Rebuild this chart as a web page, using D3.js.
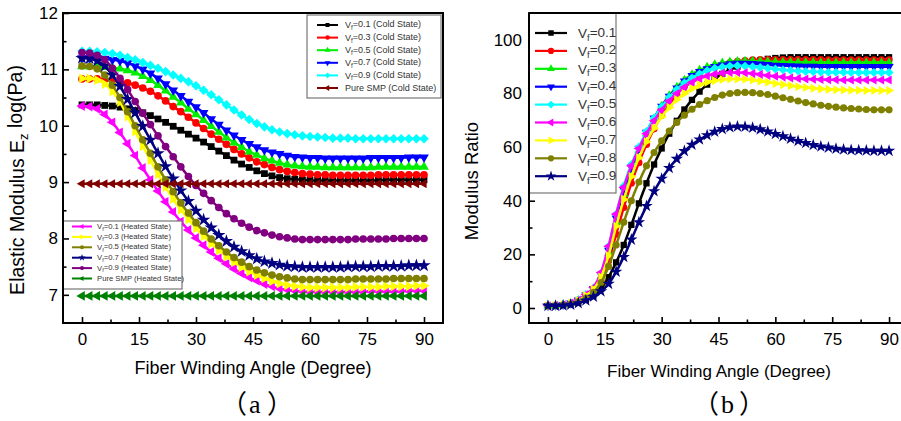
<!DOCTYPE html>
<html>
<head>
<meta charset="utf-8">
<script src="https://cdn.jsdelivr.net/npm/d3@7"></script>
<style>
  body { margin: 0; background: #fff; }
  svg { display: block; font-family: "Liberation Sans", Arial, sans-serif; }
</style>
</head>
<body>
<svg id="chart" width="901" height="421"></svg>
<script>
// fiber winding angle, every 2 degrees
const angles = d3.range(0, 91, 2);

// ---- (a) elastic modulus, log(Pa), cold state ----
const coldVf01 = [10.37,10.37,10.37,10.36,10.35,10.33, 10.30,10.27,10.23,10.18,10.12,10.06,
  9.99,9.92,9.85,9.78,9.71,9.63, 9.55,9.47,9.39,9.32,9.26,9.20, 9.15,9.11,9.08,9.06,9.05,9.04,
  9.03,9.03,9.03,9.03,9.03,9.03, 9.03,9.03,9.03,9.03,9.04,9.04, 9.04,9.04,9.04,9.04];
const coldVf03 = [10.83,10.83,10.83,10.82,10.81,10.79, 10.76,10.72,10.67,10.61,10.53,10.44,
  10.34,10.25,10.15,10.05,9.95,9.85, 9.76,9.67,9.58,9.50,9.43,9.36, 9.31,9.26,9.22,9.19,9.17,9.15,
  9.14,9.13,9.13,9.12,9.12,9.12, 9.12,9.12,9.12,9.13,9.13,9.13, 9.13,9.13,9.13,9.13];
const coldVf05 = [11.05,11.05,11.05,11.04,11.03,11.01, 10.98,10.94,10.88,10.81,10.72,10.62,
  10.51,10.41,10.30,10.20,10.10,9.99, 9.89,9.79,9.70,9.62,9.54,9.48, 9.42,9.38,9.34,9.31,9.29,9.28,
  9.27,9.27,9.26,9.26,9.26,9.26, 9.26,9.26,9.26,9.27,9.27,9.27, 9.27,9.27,9.27,9.27];
const coldVf07 = [11.20,11.20,11.20,11.19,11.17,11.15, 11.11,11.06,11.00,10.93,10.84,10.74,
  10.63,10.53,10.43,10.33,10.23,10.12, 10.02,9.92,9.83,9.75,9.68,9.62, 9.57,9.53,9.50,9.47,9.45,9.44,
  9.43,9.43,9.42,9.42,9.42,9.42, 9.42,9.42,9.43,9.43,9.43,9.43, 9.43,9.44,9.44,9.44];
const coldVf09 = [11.32,11.32,11.31,11.30,11.28,11.25, 11.21,11.17,11.12,11.07,11.02,10.96,
  10.90,10.84,10.78,10.71,10.63,10.55, 10.46,10.37,10.28,10.19,10.11,10.04, 9.98,9.93,9.89,9.86,9.84,9.82,
  9.81,9.80,9.79,9.78,9.78,9.78, 9.77,9.77,9.77,9.77,9.77,9.77, 9.77,9.77,9.77,9.77];
const coldSMP = [8.97,8.97,8.97,8.97,8.97,8.97, 8.97,8.97,8.97,8.97,8.97,8.97,
  8.97,8.97,8.97,8.97,8.97,8.97, 8.97,8.97,8.97,8.97,8.97,8.97, 8.97,8.97,8.97,8.97,8.97,8.97,
  8.97,8.97,8.97,8.97,8.97,8.97, 8.97,8.97,8.97,8.97,8.97,8.97, 8.97,8.97,8.97,8.97];

// ---- (a) heated state ----
const heatVf01 = [10.35,10.34,10.30,10.20,10.06,9.88, 9.68,9.47,9.25,9.04,8.84,8.65,
  8.47,8.30,8.15,8.01,7.88,7.76, 7.65,7.55,7.46,7.38,7.31,7.25, 7.19,7.15,7.11,7.09,7.07,7.06,
  7.05,7.05,7.05,7.05,7.05,7.05, 7.05,7.05,7.06,7.06,7.06,7.06, 7.06,7.07,7.07,7.07];
const heatVf03 = [10.84,10.84,10.81,10.74,10.61,10.42, 10.16,9.90,9.64,9.39,9.14,8.91,
  8.70,8.51,8.34,8.18,8.04,7.91, 7.79,7.68,7.58,7.49,7.41,7.35, 7.29,7.24,7.20,7.17,7.15,7.14,
  7.13,7.13,7.13,7.13,7.13,7.13, 7.14,7.14,7.14,7.14,7.15,7.15, 7.15,7.15,7.16,7.16];
const heatVf05 = [11.06,11.05,11.01,10.90,10.72,10.50, 10.25,10.00,9.75,9.51,9.27,9.04,
  8.83,8.63,8.45,8.28,8.13,7.99, 7.87,7.76,7.66,7.58,7.50,7.44, 7.39,7.35,7.32,7.30,7.28,7.27,
  7.27,7.27,7.27,7.27,7.27,7.27, 7.28,7.28,7.28,7.28,7.28,7.29, 7.29,7.29,7.29,7.29];
const heatVf07 = [11.20,11.19,11.15,11.06,10.90,10.70, 10.47,10.23,9.99,9.75,9.51,9.28,
  9.06,8.85,8.66,8.49,8.33,8.19, 8.06,7.95,7.85,7.77,7.70,7.64, 7.59,7.56,7.53,7.51,7.50,7.49,
  7.49,7.49,7.49,7.49,7.49,7.50, 7.50,7.50,7.50,7.51,7.51,7.51, 7.51,7.52,7.52,7.52];
const heatVf09 = [11.30,11.29,11.25,11.17,11.02,10.84, 10.64,10.43,10.22,10.02,9.82,9.63,
  9.45,9.27,9.10,8.94,8.80,8.67, 8.55,8.44,8.35,8.27,8.20,8.14, 8.10,8.06,8.03,8.01,7.99,7.98,
  7.98,7.98,7.98,7.98,7.98,7.98, 7.99,7.99,7.99,7.99,7.99,8.00, 8.00,8.00,8.00,8.00];
const heatSMP = [6.98,6.98,6.98,6.98,6.98,6.98, 6.98,6.98,6.98,6.98,6.98,6.98,
  6.98,6.98,6.98,6.98,6.98,6.98, 6.98,6.98,6.98,6.98,6.98,6.98, 6.98,6.98,6.98,6.98,6.98,6.98,
  6.98,6.98,6.98,6.98,6.98,6.98, 6.98,6.98,6.98,6.98,6.98,6.98, 6.98,6.98,6.98,6.98];

// ---- (b) modulus ratio ----
const ratioVf01 = [0.8,0.8,1.0,1.3,2.0,3.1, 4.7,7.2,11.5,17.0,23.5,31.0,
  39.0,46.5,53.5,59.5,65.0,69.8, 74.0,77.6,80.7,83.3,85.5,87.3, 88.8,90.0,91.0,91.8,92.4,92.9,
  93.2,93.4,93.5,93.5,93.5,93.5, 93.5,93.5,93.5,93.5,93.5,93.5, 93.5,93.5,93.5,93.5];
const ratioVf02 = [0.8,0.9,1.1,1.6,2.5,4.0, 6.2,10.2,17.5,27.5,37.5,46.5,
  54.2,61.0,66.8,71.8,76.0,79.6, 82.6,85.1,87.1,88.7,89.9,90.8, 91.5,92.0,92.3,92.5,92.6,92.6,
  92.6,92.6,92.6,92.6,92.6,92.6, 92.6,92.5,92.5,92.5,92.5,92.5, 92.5,92.5,92.5,92.5];
const ratioVf03 = [0.8,0.9,1.2,1.7,2.8,4.6, 7.0,11.8,20.5,32.0,42.5,51.5,
  58.8,65.0,70.6,75.3,79.2,82.4, 85.0,87.1,88.7,89.9,90.8,91.4, 91.8,92.0,92.1,92.1,92.0,91.9,
  91.8,91.7,91.7,91.6,91.6,91.6, 91.5,91.5,91.5,91.5,91.5,91.5, 91.5,91.5,91.5,91.5];
const ratioVf04 = [0.8,0.9,1.2,1.8,2.9,4.8, 7.2,12.3,21.5,33.5,44.0,52.5,
  59.5,65.5,70.8,75.2,78.9,82.0, 84.6,86.6,88.1,89.2,90.0,90.6, 91.0,91.2,91.2,91.1,90.9,90.7,
  90.5,90.4,90.3,90.2,90.1,90.1, 90.0,90.0,90.0,90.0,90.0,90.0, 90.0,90.0,90.0,90.0];
const ratioVf05 = [0.8,0.9,1.2,1.8,3.0,5.0, 7.5,13.0,23.0,35.0,45.5,53.5,
  60.0,65.8,70.8,75.0,78.6,81.5, 83.9,85.8,87.3,88.5,89.4,89.9, 90.2,90.3,90.2,90.0,89.7,89.4,
  89.1,88.8,88.6,88.4,88.2,88.1, 88.0,87.9,87.9,87.9,87.8,87.8, 87.8,87.8,87.8,87.8];
const ratioVf06 = [0.8,0.9,1.2,1.8,3.0,5.0, 7.6,13.2,23.0,35.0,45.0,53.0,
  59.5,65.0,69.8,73.8,77.2,80.0, 82.3,84.1,85.5,86.5,87.2,87.6, 87.8,87.8,87.7,87.4,87.1,86.7,
  86.4,86.1,85.8,85.6,85.4,85.3, 85.2,85.1,85.1,85.0,85.0,85.0, 85.0,85.0,85.0,85.0];
const ratioVf07 = [0.8,0.9,1.2,1.7,2.8,4.6, 7.0,11.5,19.5,30.5,40.5,49.0,
  56.0,62.0,67.0,71.3,74.8,77.7, 80.0,81.8,83.2,84.2,84.8,85.2, 85.4,85.4,85.3,85.0,84.6,84.2,
  83.7,83.3,82.9,82.5,82.2,81.9, 81.7,81.5,81.4,81.3,81.2,81.2, 81.1,81.1,81.1,81.1];
const ratioVf08 = [0.8,0.9,1.1,1.5,2.3,3.7, 5.8,9.5,15.5,23.5,32.0,40.0,
  47.0,53.0,58.0,62.3,66.0,69.2, 71.9,74.1,75.9,77.3,78.5,79.4, 80.0,80.3,80.4,80.3,80.0,79.6,
  79.0,78.4,77.8,77.2,76.6,76.1, 75.6,75.2,74.9,74.6,74.4,74.2, 74.0,73.9,73.9,73.9];
const ratioVf09 = [0.8,0.8,0.9,1.2,1.8,2.8, 4.2,6.2,9.0,13.5,19.0,25.5,
  32.0,38.0,43.5,48.2,52.2,55.6, 58.5,60.9,62.8,64.4,65.7,66.7, 67.4,67.7,67.6,67.2,66.6,65.8,
  64.9,64.0,63.1,62.3,61.5,60.8, 60.2,59.8,59.4,59.1,58.9,58.8, 58.7,58.6,58.6,58.6];

// series lists: legend text + data + look
const coldSeries = [
  { vf: "0.1", tail: " (Cold State)", values: coldVf01, color: "#000000", sym: "square" },
  { vf: "0.3", tail: " (Cold State)", values: coldVf03, color: "#ff0000", sym: "circle" },
  { vf: "0.5", tail: " (Cold State)", values: coldVf05, color: "#00ee00", sym: "triUp" },
  { vf: "0.7", tail: " (Cold State)", values: coldVf07, color: "#0000ff", sym: "triDown" },
  { vf: "0.9", tail: " (Cold State)", values: coldVf09, color: "#00ffff", sym: "diamond" },
  { plain: "Pure SMP (Cold State)", values: coldSMP, color: "#800000", sym: "triLeft" }
];
const heatSeries = [
  { vf: "0.1", tail: " (Heated State)", values: heatVf01, color: "#ff00ff", sym: "triLeft" },
  { vf: "0.3", tail: " (Heated State)", values: heatVf03, color: "#ffff00", sym: "triRight" },
  { vf: "0.5", tail: " (Heated State)", values: heatVf05, color: "#808000", sym: "circle" },
  { vf: "0.7", tail: " (Heated State)", values: heatVf07, color: "#000080", sym: "star" },
  { vf: "0.9", tail: " (Heated State)", values: heatVf09, color: "#800080", sym: "circle" },
  { plain: "Pure SMP (Heated State)", values: heatSMP, color: "#008000", sym: "triLeft" }
];
const ratioSeries = [
  { vf: "0.1", values: ratioVf01, color: "#000000", sym: "square" },
  { vf: "0.2", values: ratioVf02, color: "#ff0000", sym: "circle" },
  { vf: "0.3", values: ratioVf03, color: "#00ee00", sym: "triUp" },
  { vf: "0.4", values: ratioVf04, color: "#0000ff", sym: "triDown" },
  { vf: "0.5", values: ratioVf05, color: "#00ffff", sym: "diamond" },
  { vf: "0.6", values: ratioVf06, color: "#ff00ff", sym: "triLeft" },
  { vf: "0.7", values: ratioVf07, color: "#ffff00", sym: "triRight" },
  { vf: "0.8", values: ratioVf08, color: "#808000", sym: "circle" },
  { vf: "0.9", values: ratioVf09, color: "#000080", sym: "star" }
];

const svg = d3.select("#chart");

// Origin-like symbols built from d3 symbols
function marker(kind, size) {
  const rot = { triDown: 180, triLeft: -90, triRight: 90, diamond: 45 }[kind] || 0;
  const type = {
    square: d3.symbolSquare, diamond: d3.symbolSquare, circle: d3.symbolCircle,
    star: d3.symbolStar, triUp: d3.symbolTriangle, triDown: d3.symbolTriangle,
    triLeft: d3.symbolTriangle, triRight: d3.symbolTriangle
  }[kind] || d3.symbolCircle;
  const scale = kind.startsWith("tri") ? 0.9 : (kind === "star" ? 1.2 : 1);
  return { d: d3.symbol(type, size * scale)(), rot: rot };
}

function drawSeries(g, x, y, s, size) {
  const pts = s.values.map((v, i) => [angles[i], v]);
  const line = d3.line().x(d => x(d[0])).y(d => y(d[1])).curve(d3.curveMonotoneX);
  g.append("path").datum(pts).attr("d", line)
    .attr("fill", "none").attr("stroke", s.color).attr("stroke-width", 2.5);
  const m = marker(s.sym, size);
  g.append("g").selectAll("path").data(pts).join("path")
    .attr("d", m.d)
    .attr("transform", d => `translate(${x(d[0])},${y(d[1])}) rotate(${m.rot})`)
    .attr("fill", s.color);
}

// ticks pointing inward, majors labelled, minors between
function drawAxes(g, x, y, box, xMinor, yMajor, yMinor, yPad) {
  const style = sel => {
    sel.select(".domain").remove();
    sel.selectAll(".tick line").attr("stroke", "#000").attr("stroke-width", 1.6);
    sel.attr("font-size", 17).attr("font-family", "Liberation Sans, Arial, sans-serif");
  };
  g.append("g").attr("transform", `translate(0,${box.bottom})`)
    .call(d3.axisBottom(x).tickValues(d3.range(0, 91, 15)).tickSize(-6).tickPadding(10).tickFormat(d3.format("d")))
    .call(style);
  g.append("g").attr("transform", `translate(0,${box.bottom})`)
    .call(d3.axisBottom(x).tickValues(xMinor).tickSize(-3.5).tickFormat(""))
    .call(style);
  g.append("g").attr("transform", `translate(${box.left},0)`)
    .call(d3.axisLeft(y).tickValues(yMajor).tickSize(-6).tickPadding(yPad).tickFormat(d3.format("d")))
    .call(style);
  g.append("g").attr("transform", `translate(${box.left},0)`)
    .call(d3.axisLeft(y).tickValues(yMinor).tickSize(-3.5).tickFormat(""))
    .call(style);
  g.append("rect").attr("x", box.left).attr("y", box.top)
    .attr("width", box.right - box.left).attr("height", box.bottom - box.top)
    .attr("fill", "none").attr("stroke", "#000").attr("stroke-width", 2);
}

// text with a "V" + subscript f
function vfText(t, s, subSize) {
  if (s.plain) { t.text(s.plain); return; }
  t.append("tspan").text("V");
  t.append("tspan").attr("dy", "0.3em").attr("font-size", subSize).text("f");
  t.append("tspan").attr("dy", "-0.3em").text("=" + s.vf + (s.tail || ""));
}

function drawLegend(g, list, o) {
  g.append("rect").attr("x", o.x0).attr("y", o.y0).attr("width", o.x1 - o.x0).attr("height", o.y1 - o.y0)
    .attr("fill", "#fff").attr("stroke", "#777").attr("stroke-width", 1.2);
  list.forEach((s, i) => {
    const cy = o.first + i * o.step;
    g.append("line").attr("x1", o.lx0).attr("x2", o.lx1).attr("y1", cy).attr("y2", cy)
      .attr("stroke", s.color).attr("stroke-width", o.lw);
    const m = marker(s.sym, o.msize);
    g.append("path").attr("d", m.d)
      .attr("transform", `translate(${(o.lx0 + o.lx1) / 2},${cy}) rotate(${m.rot})`)
      .attr("fill", s.color);
    const t = g.append("text").attr("x", o.tx).attr("y", cy).attr("dy", "0.35em")
      .attr("font-size", o.fs).attr("fill", "#333");
    vfText(t, s, o.fs * 0.7);
  });
}

// panel caption "（a）" with full-width parentheses
function caption(g, cx, letter) {
  const t = g.append("text").attr("y", 413).attr("font-size", 26)
    .attr("font-family", "Noto Sans CJK SC, sans-serif");
  t.append("tspan").attr("x", cx - 34).text("（");
  t.append("tspan").attr("x", cx - 6).attr("font-family", "Liberation Serif, serif").text(letter);
  t.append("tspan").attr("x", cx + 12).text("）");
}

// ================= panel (a) =================
const boxA = { left: 63, right: 443, top: 13, bottom: 323 };
const xA = d3.scaleLinear().domain([-5, 95]).range([boxA.left, boxA.right]);
const yA = d3.scaleLinear().domain([6.5, 12]).range([boxA.bottom, boxA.top]);
const gA = svg.append("g");

coldSeries.slice(0, 5).forEach(s => drawSeries(gA, xA, yA, s, 46));
heatSeries.forEach(s => drawSeries(gA, xA, yA, s, 46));
drawSeries(gA, xA, yA, coldSeries[5], 40);

drawLegend(gA, coldSeries, { x0: 307, x1: 441, y0: 15, y1: 98, first: 25, step: 12.6,
  lx0: 317, lx1: 338, tx: 345, fs: 9, msize: 16, lw: 2 });
drawLegend(gA, heatSeries, { x0: 63, x1: 182, y0: 221, y1: 289, first: 226.5, step: 10.4,
  lx0: 72, lx1: 92, tx: 97, fs: 7.7, msize: 13, lw: 2 });

drawAxes(gA, xA, yA, boxA, d3.range(7.5, 90, 15), d3.range(7, 12.01, 1), d3.range(7.5, 12, 1), 5);

gA.append("text").attr("transform", "translate(24,180) rotate(-90)")
  .attr("text-anchor", "middle").attr("font-size", 19.5)
  .call(t => {
    t.append("tspan").text("Elastic Modulus E");
    t.append("tspan").attr("dy", "0.3em").attr("font-size", 13).text("z");
    t.append("tspan").attr("dy", "-0.3em").text(" log(Pa)");
  });
gA.append("text").attr("x", 253).attr("y", 374).attr("text-anchor", "middle")
  .attr("font-size", 18).text("Fiber Winding Angle (Degree)");
caption(gA, 255, "a");

// ================= panel (b) =================
const boxB = { left: 529, right: 908, top: 13, bottom: 323 };
const xB = d3.scaleLinear().domain([-5, 95]).range([boxB.left, boxB.right]);
const yB = d3.scaleLinear().domain([-5.6, 110]).range([boxB.bottom, boxB.top]);
const gB = svg.append("g");

ratioSeries.forEach(s => drawSeries(gB, xB, yB, s, 40));

drawAxes(gB, xB, yB, boxB, d3.range(7.5, 90, 15), d3.range(0, 101, 20), d3.range(10, 100, 20), 7);

drawLegend(gB, ratioSeries, { x0: 529, x1: 616, y0: 13, y1: 193, first: 33, step: 17.9,
  lx0: 535, lx1: 567, tx: 578, fs: 13.5, msize: 30, lw: 2.2 });
// redraw frame edge over the legend box
gB.append("line").attr("x1", 529).attr("x2", 529).attr("y1", 13).attr("y2", 323)
  .attr("stroke", "#000").attr("stroke-width", 2);
gB.append("line").attr("x1", 529).attr("x2", 901).attr("y1", 13).attr("y2", 13)
  .attr("stroke", "#000").attr("stroke-width", 2);

gB.append("text").attr("transform", "translate(478,181) rotate(-90)")
  .attr("text-anchor", "middle").attr("font-size", 18.5).text("Modulus Ratio");
gB.append("text").attr("x", 719).attr("y", 377).attr("text-anchor", "middle")
  .attr("font-size", 17).text("Fiber Winding Angle (Degree)");
caption(gB, 727, "b");

// redraw frame edges of (a) over its legends
gA.append("line").attr("x1", 63).attr("x2", 63).attr("y1", 13).attr("y2", 323)
  .attr("stroke", "#000").attr("stroke-width", 2);
</script>
</body>
</html>
